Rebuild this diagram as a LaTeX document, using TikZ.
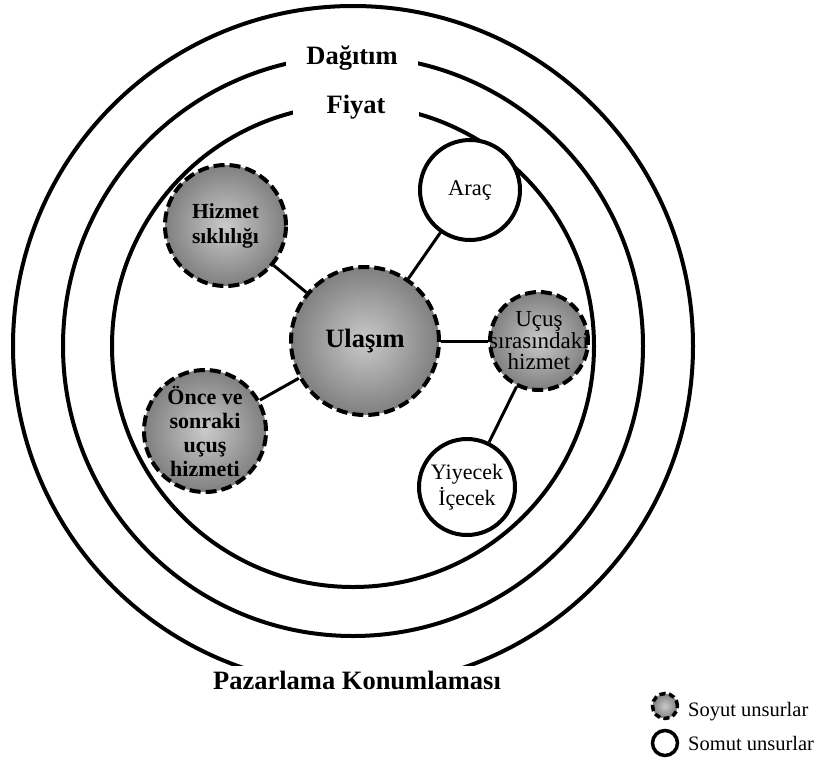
\documentclass[tikz,border=0pt]{standalone}
\usepackage{fontspec}
\setmainfont{Liberation Serif}
\definecolor{shadein}{gray}{0.79}
\definecolor{shadeout}{gray}{0.50}
\begin{document}
\begin{tikzpicture}[x=1pt,y=-1pt,
  ring/.style={line width=4pt},
  ringlabel/.style={fill=white, inner sep=3pt, anchor=base,
    font=\fontsize{26.5}{30}\selectfont\bfseries},
  abstract/.style={circle, draw, line width=4pt, dash pattern=on 11pt off 5pt,
    inner color=shadein, outer color=shadeout, inner sep=0pt},
  concrete/.style={circle, draw, line width=4pt, fill=white, inner sep=0pt},
  link/.style={line width=3pt},
  legendtext/.style={anchor=base west, inner sep=0pt, font=\fontsize{20.5}{25}\selectfont},
]
\path[use as bounding box] (0,0) rectangle (822,761);

% concentric rings
\coordinate (mid) at (353,346);
\draw[ring] (mid) circle [radius=340pt];
\draw[ring] (mid) circle [radius=290pt];
\draw[ring] (mid) circle [radius=241pt];

% ring labels sitting in gaps of the rings
\node[ringlabel, minimum width=132pt] (dist) at (352,64) {Dağıtım};
\node[ringlabel, minimum width=126pt] (price) at (356,113) {Fiyat};
\node[ringlabel, inner sep=5pt] (pos) at (357,689) {Pazarlama Konumlaması};

% service elements
\node[abstract, minimum size=148pt,
  label={[align=center, font=\fontsize{26.5}{30}\selectfont\bfseries]center:Ulaşım}]
  (trans) at (365,341) {};
\node[abstract, minimum size=121pt,
  label={[align=center, font=\fontsize{21.5}{25}\selectfont\bfseries]center:Hizmet\\sıklılığı}]
  (freq) at (225.5,225.5) {};
\node[abstract, minimum size=122pt,
  label={[align=center, font=\fontsize{22}{24}\selectfont\bfseries]center:Önce ve\\sonraki\\uçuş\\hizmeti}]
  (ground) at (205,431) {};
\node[concrete, minimum size=100pt,
  label={[align=center, font=\fontsize{22.5}{26}\selectfont]center:Araç}]
  (veh) at (470,190) {};
\node[abstract, minimum size=98pt,
  label={[align=center, font=\fontsize{23}{21.5}\selectfont]center:Uçuş\\sırasındaki\\hizmet}]
  (inflight) at (539,341) {};
\node[concrete, minimum size=96pt,
  label={[align=center, font=\fontsize{22}{25.5}\selectfont]center:Yiyecek\\İçecek}]
  (food) at (467,487) {};

% connections
\draw[link] (freq) -- (trans);
\draw[link] (ground) -- (trans);
\draw[link] (veh) -- (trans);
\draw[link] (inflight) -- (trans);
\draw[link] (inflight) -- (food);

% legend
\node[abstract, minimum size=25pt, line width=3.5pt, dash pattern=on 6pt off 3.5pt]
  (keyA) at (665,706) {};
\node[concrete, minimum size=25pt, line width=3.5pt] (keyB) at (665,743) {};
\node[legendtext] (keyAtext) at (688,716) {Soyut unsurlar};
\node[legendtext] (keyBtext) at (688,750) {Somut unsurlar};
\end{tikzpicture}
\end{document}
